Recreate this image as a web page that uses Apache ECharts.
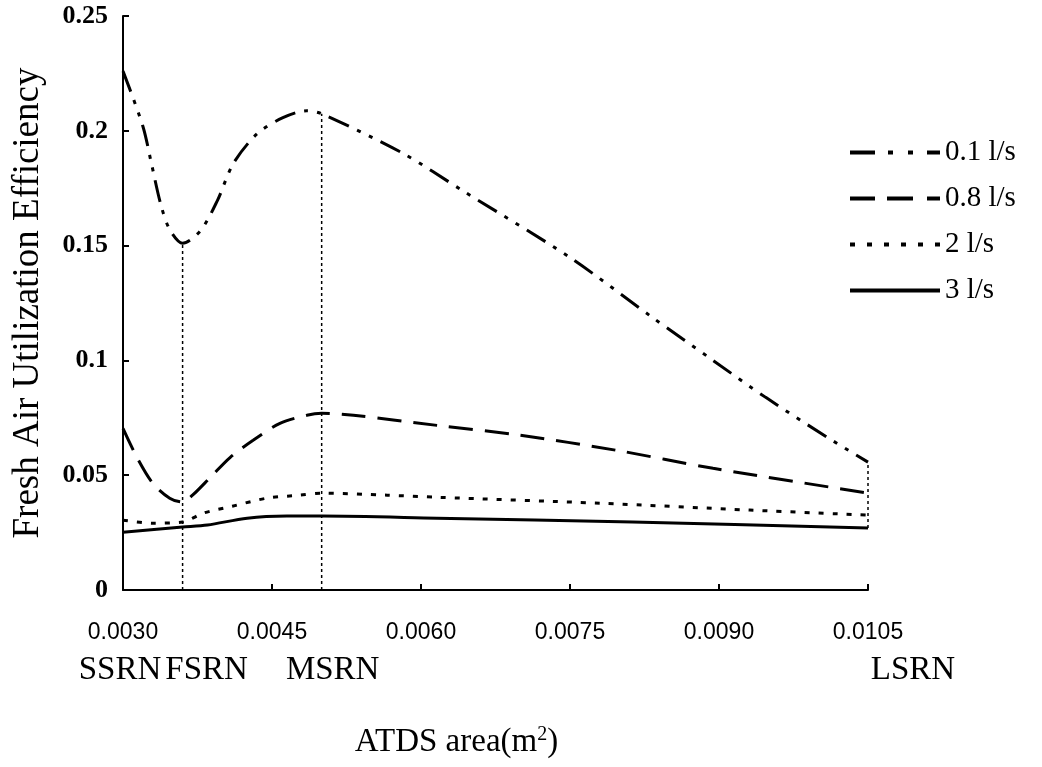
<!DOCTYPE html>
<html>
<head>
<meta charset="utf-8">
<script src="https://cdn.jsdelivr.net/npm/echarts@6/dist/echarts.min.js"></script>
<style>
  html, body { margin: 0; padding: 0; background: #fff; }
  #chart { width: 1042px; height: 767px; }
</style>
</head>
<body>
<div id="chart"></div>
<script>
    // values (x = ATDS area m2, y = efficiency)
    var seriesNames = ['0.1 l/s', '0.8 l/s', '2 l/s', '3 l/s'];

    var flow01X = [0.0030, 0.0032, 0.00329, 0.00338, 0.00347, 0.0036, 0.00378, 0.00395, 0.00411, 0.00435, 0.00461, 0.00485, 0.0050, 0.00581, 0.00642, 0.0075, 0.00833, 0.00894, 0.00947, 0.01009, 0.0105];
    var flow01Y = [0.226, 0.202, 0.185, 0.168, 0.157, 0.151, 0.1565, 0.1696, 0.1857, 0.1987, 0.2057, 0.2087, 0.2074, 0.1904, 0.1739, 0.1448, 0.1187, 0.1000, 0.0839, 0.0665, 0.0557];

    var flow08X = [0.0030, 0.00314, 0.0033, 0.00347, 0.0036, 0.0037, 0.00388, 0.00408, 0.00431, 0.00458, 0.00485, 0.0050, 0.00532, 0.00616, 0.0070, 0.00796, 0.00894, 0.0105];
    var flow08Y = [0.0704, 0.0578, 0.0465, 0.0400, 0.0383, 0.0413, 0.0491, 0.0578, 0.0652, 0.0726, 0.0761, 0.0770, 0.0761, 0.0717, 0.0674, 0.0609, 0.0530, 0.0422];

    var flow2X = [0.0030, 0.0033, 0.0036, 0.00381, 0.0041, 0.00445, 0.00478, 0.0050, 0.00566, 0.00616, 0.0078, 0.00931, 0.0105];
    var flow2Y = [0.0304, 0.0291, 0.0296, 0.0335, 0.0365, 0.0400, 0.0413, 0.0422, 0.0413, 0.0404, 0.0378, 0.0348, 0.0326];

    var flow3X = [0.0030, 0.0036, 0.00385, 0.00425, 0.00465, 0.0050, 0.00616, 0.00813, 0.0105];
    var flow3Y = [0.0252, 0.0274, 0.0283, 0.0313, 0.0322, 0.0322, 0.0313, 0.0296, 0.0270];

    // reference sizes marked under the axis
    var refNames = ['SSRN', 'FSRN', 'MSRN', 'LSRN'];
    var refX = [0.0030, 0.0036, 0.0050, 0.0105];

    var xTickMin = 0.0030, xTickMax = 0.0105, xTickStep = 0.0015;
    var yTickMin = 0, yTickMax = 0.25, yTickStep = 0.05;

    function pairs(xs, ys) {
        var data = [];
        for (var i = 0; i < xs.length; i++) {
            data.push([xs[i], ys[i]]);
        }
        return data;
    }

    function lookup(xs, ys, x) {
        for (var i = 0; i < xs.length; i++) {
            if (Math.abs(xs[i] - x) < 1e-9) return ys[i];
        }
        return 0;
    }

    var serif = '"Liberation Serif", "DejaVu Serif", serif';
    var lineStyles = [
        {type: [22, 9, 4, 9, 4, 9], width: 3},
        {type: [24, 12], width: 3},
        {type: [5, 9], width: 3},
        {type: 'solid', width: 3}
    ];
    // legend keys drawn as paths in a 90x4 box
    var legendIcons = [
        'path://M0,0h25v4h-25z M38,0h5v4h-5z M58,0h5v4h-5z M77,0h13v4h-13z',
        'path://M0,0h25v4h-25z M37,0h26v4h-26z M77,0h13v4h-13z',
        'path://M0,0h5v4h-5z M17,0h5v4h-5z M34,0h5v4h-5z M51,0h5v4h-5z M68,0h5v4h-5z M85,0h5v4h-5z',
        'path://M0,0h90v4h-90z'
    ];
    var allData = [
        pairs(flow01X, flow01Y),
        pairs(flow08X, flow08Y),
        pairs(flow2X, flow2Y),
        pairs(flow3X, flow3Y)
    ];

    var series = [];
    var legendData = [];
    for (var s = 0; s < seriesNames.length; s++) {
        series.push({
            name: seriesNames[s],
            type: 'line',
            data: allData[s],
            smooth: 0.3,
            symbol: 'none',
            lineStyle: Object.assign({color: '#000'}, lineStyles[s]),
            itemStyle: {color: '#000'},
            z: 3
        });
        legendData.push({name: seriesNames[s], icon: legendIcons[s]});
    }

    // dotted drop lines at FSRN, MSRN and LSRN
    for (var r = 1; r < refX.length; r++) {
        var yHigh = lookup(flow01X, flow01Y, refX[r]);
        var yLow = (r === refX.length - 1) ? lookup(flow3X, flow3Y, refX[r]) : 0;
        series.push({
            type: 'line',
            silent: true,
            symbol: 'none',
            data: [[refX[r], yLow], [refX[r], yHigh]],
            lineStyle: {color: '#000', width: 1.5, type: [3, 3]},
            z: 2
        });
    }

    var chart = echarts.init(document.getElementById('chart'), null, {renderer: 'canvas'});
    var option = {
        animation: false,
        backgroundColor: '#fff',
        grid: {left: 123, right: 174, top: 16, bottom: 177, containLabel: false, outerBoundsMode: 'none'},
        legend: {
            data: legendData,
            orient: 'vertical',
            left: 845,
            top: 133,
            itemWidth: 90,
            itemHeight: 4,
            itemGap: 17,
            textStyle: {fontFamily: serif, fontSize: 29, color: '#000', lineHeight: 29},
            selectedMode: false
        },
        xAxis: {
            type: 'value',
            min: xTickMin,
            max: xTickMax,
            interval: xTickStep,
            splitLine: {show: false},
            axisLine: {lineStyle: {color: '#000', width: 2}},
            axisTick: {inside: true, length: 6, lineStyle: {color: '#000', width: 2}},
            axisLabel: {
                margin: 31,
                fontFamily: '"Liberation Sans", Arial, sans-serif',
                fontSize: 23,
                color: '#000',
                formatter: function (v) { return v.toFixed(4); }
            },
            name: 'ATDS area(m{sup|2})',
            nameLocation: 'middle',
            nameGap: 135,
            nameTextStyle: {
                fontFamily: serif, fontSize: 33, color: '#000',
                padding: [0, 78, 0, 0],
                rich: {sup: {fontFamily: serif, fontSize: 20, verticalAlign: 'top', padding: [0, 0, 15, 0]}}
            }
        },
        yAxis: {
            type: 'value',
            min: yTickMin,
            max: yTickMax,
            interval: yTickStep,
            splitLine: {show: false},
            axisLine: {lineStyle: {color: '#000', width: 2}},
            axisTick: {inside: true, length: 6, lineStyle: {color: '#000', width: 2}},
            axisLabel: {
                margin: 15,
                fontFamily: serif,
                fontWeight: 'bold',
                fontSize: 26,
                color: '#000'
            },
            name: 'Fresh Air Utilization Efficiency',
            nameLocation: 'middle',
            nameGap: 76,
            nameTextStyle: {fontFamily: serif, fontSize: 37, color: '#000'}
        },
        series: series
    };
    chart.setOption(option);

    // reference size names on a second row under the tick labels
    var nudge = [-3, 24, 11, 45];
    var graphics = [];
    for (var k = 0; k < refNames.length; k++) {
        var px = chart.convertToPixel({gridIndex: 0}, [refX[k], 0]);
        graphics.push({
            type: 'text',
            x: px[0] + nudge[k],
            y: px[1] + 80,
            style: {
                text: refNames[k],
                fontFamily: serif,
                fontSize: 33,
                fill: '#000',
                textAlign: 'center',
                textVerticalAlign: 'middle'
            }
        });
    }
    chart.setOption({graphic: graphics});
</script>
</body>
</html>
